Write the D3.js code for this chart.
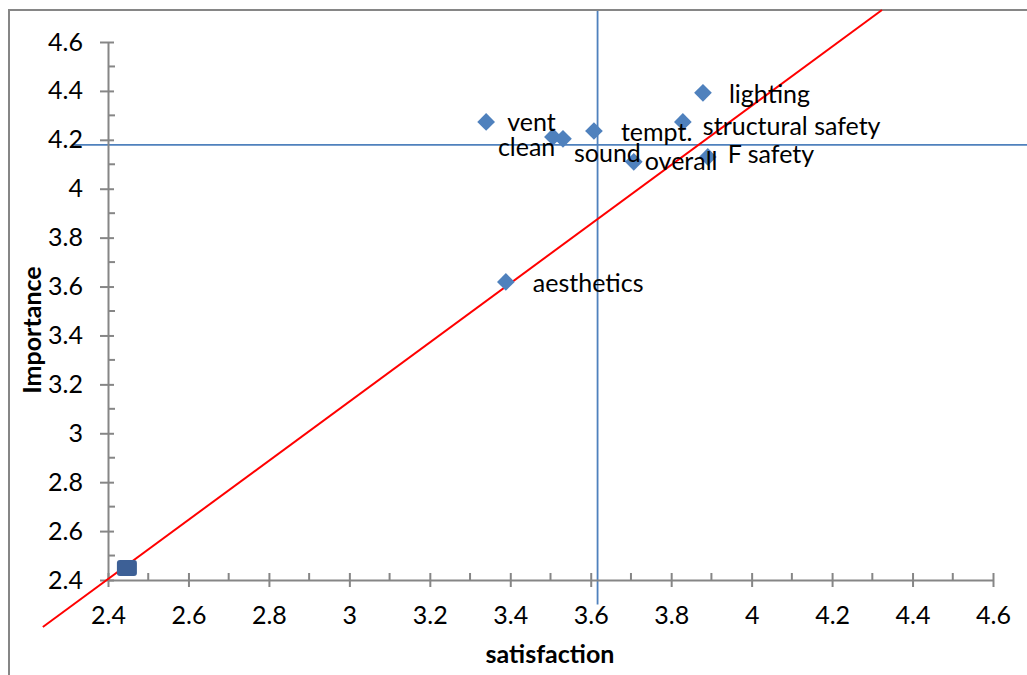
<!DOCTYPE html>
<html>
<head>
<meta charset="utf-8">
<script src="https://cdn.jsdelivr.net/npm/d3@7"></script>
<style>
  html, body { margin: 0; padding: 0; background: #fff; }
  svg { display: block; font-family: Lato, "Open Sans", sans-serif; }
</style>
</head>
<body>
<svg id="chart" width="1027" height="675"></svg>
<script>
// Attribute scores: mean satisfaction (x) vs. mean importance (y)
const attributes = ["vent", "clean", "sound", "tempt.", "overall", "lighting", "structural safety", "F safety", "aesthetics"];
const satisfaction = [3.34, 3.506, 3.531, 3.608, 3.707, 3.879, 3.829, 3.891, 3.389];
const importance   = [4.273, 4.212, 4.204, 4.236, 4.110, 4.392, 4.273, 4.130, 3.619];

// Origin marker
const originPoint = [2.447, 2.449];

// Mean reference lines
const meanImportance = 4.179;
const meanImportanceFrom = 2.31;
const meanSatisfaction = 3.617;
const meanSatisfactionFrom = 2.3;

// Diagonal reference line endpoints (satisfaction, importance)
const trendX = [2.238, 4.324];
const trendY = [2.208, 4.731];

// Axis ticks
const xTicks = [2.4, 2.6, 2.8, 3.0, 3.2, 3.4, 3.6, 3.8, 4.0, 4.2, 4.4, 4.6];
const yTicks = [2.4, 2.6, 2.8, 3.0, 3.2, 3.4, 3.6, 3.8, 4.0, 4.2, 4.4, 4.6];
const xMinor = [2.5, 2.7, 2.9, 3.1, 3.3, 3.5, 3.7, 3.9, 4.1, 4.3, 4.5];
const yMinor = [2.5, 2.7, 2.9, 3.1, 3.3, 3.5, 3.7, 3.9, 4.1, 4.3, 4.5];

// Label placement relative to each marker (px)
const labelOffset = {
  "vent": [21, 9], "clean": [-55, 19], "sound": [11, 23], "tempt.": [27, 10],
  "overall": [11, 8], "lighting": [26, 10], "structural safety": [20, 13],
  "F safety": [20, 6], "aesthetics": [27, 10]
};

const svg = d3.select("#chart");
const x = d3.scaleLinear().domain([2.4, 4.6]).range([108, 993]);
const y = d3.scaleLinear().domain([2.4, 4.6]).range([580, 42]);
const fmt = d => (d === 3 || d === 4) ? String(d) : d3.format(".1f")(d);

const axisColor = "#868686";
const blue = "#4f81bd";
const fontSize = 25;

// Chart frame
svg.append("rect").attr("x", 9).attr("y", 10).attr("width", 1100).attr("height", 720)
  .attr("fill", "none").attr("stroke", axisColor).attr("stroke-width", 2);

// Mean lines
svg.append("line")
  .attr("x1", x(meanImportanceFrom)).attr("x2", 1030)
  .attr("y1", y(meanImportance)).attr("y2", y(meanImportance))
  .attr("stroke", blue).attr("stroke-width", 1.8);
svg.append("line")
  .attr("x1", x(meanSatisfaction)).attr("x2", x(meanSatisfaction))
  .attr("y1", 11).attr("y2", y(meanSatisfactionFrom))
  .attr("stroke", blue).attr("stroke-width", 1.8);

// Y axis
const yAxis = svg.append("g").attr("transform", `translate(${x(2.4)},0)`)
  .call(d3.axisLeft(y).tickValues(yTicks).tickFormat(fmt).tickSizeInner(8).tickSizeOuter(0).tickPadding(18));
yAxis.select(".domain").attr("stroke", axisColor).attr("stroke-width", 2);
yAxis.selectAll(".tick line").attr("stroke", axisColor).attr("stroke-width", 2).attr("x2", 6).attr("x1", -8);
yAxis.selectAll(".tick text").attr("font-size", fontSize).attr("fill", "#000").attr("x", -25);
yAxis.selectAll(".minor").data(yMinor).enter().append("line")
  .attr("x1", 0).attr("x2", 7).attr("y1", d => y(d)).attr("y2", d => y(d))
  .attr("stroke", axisColor).attr("stroke-width", 2);

// X axis
const xAxis = svg.append("g").attr("transform", `translate(0,${y(2.4)})`)
  .call(d3.axisBottom(x).tickValues(xTicks).tickFormat(fmt).tickSizeInner(7).tickSizeOuter(0).tickPadding(18));
xAxis.select(".domain").attr("stroke", axisColor).attr("stroke-width", 2);
xAxis.selectAll(".tick line").attr("stroke", axisColor).attr("stroke-width", 2).attr("y1", -7).attr("y2", 7);
xAxis.selectAll(".tick text").attr("font-size", fontSize).attr("fill", "#000").attr("y", 26);
xAxis.selectAll(".minor").data(xMinor).enter().append("line")
  .attr("y1", 0).attr("y2", -7).attr("x1", d => x(d)).attr("x2", d => x(d))
  .attr("stroke", axisColor).attr("stroke-width", 2);
svg.selectAll("g").attr("font-family", null);

// Diagonal line
svg.append("line")
  .attr("x1", x(trendX[0])).attr("y1", y(trendY[0]))
  .attr("x2", x(trendX[1])).attr("y2", y(trendY[1]))
  .attr("stroke", "#ff0000").attr("stroke-width", 2);

// Origin marker
svg.append("rect")
  .attr("x", x(originPoint[0]) - 10).attr("y", y(originPoint[1]) - 8)
  .attr("width", 20).attr("height", 16).attr("rx", 3)
  .attr("fill", "#3d6096");

// Attribute markers
const pts = attributes.map((a, i) => ({ name: a, sx: satisfaction[i], im: importance[i] }));
svg.append("g").selectAll("path").data(pts).enter().append("path")
  .attr("d", d3.symbol().type(d3.symbolDiamond2).size(200))
  .attr("transform", d => `translate(${x(d.sx)},${y(d.im)})`)
  .attr("fill", blue);

// Labels
svg.append("g").selectAll("text").data(pts).enter().append("text")
  .attr("x", d => x(d.sx) + labelOffset[d.name][0])
  .attr("y", d => y(d.im) + labelOffset[d.name][1])
  .attr("font-size", fontSize).attr("fill", "#000")
  .text(d => d.name);

// Axis titles
svg.append("text").attr("x", 550).attr("y", 663).attr("text-anchor", "middle")
  .attr("font-size", 25).attr("font-weight", "bold").text("satisfaction");
svg.append("text").attr("transform", "translate(41,330) rotate(-90)").attr("text-anchor", "middle")
  .attr("font-size", 25).attr("font-weight", "bold").text("Importance");
</script>
</body>
</html>
